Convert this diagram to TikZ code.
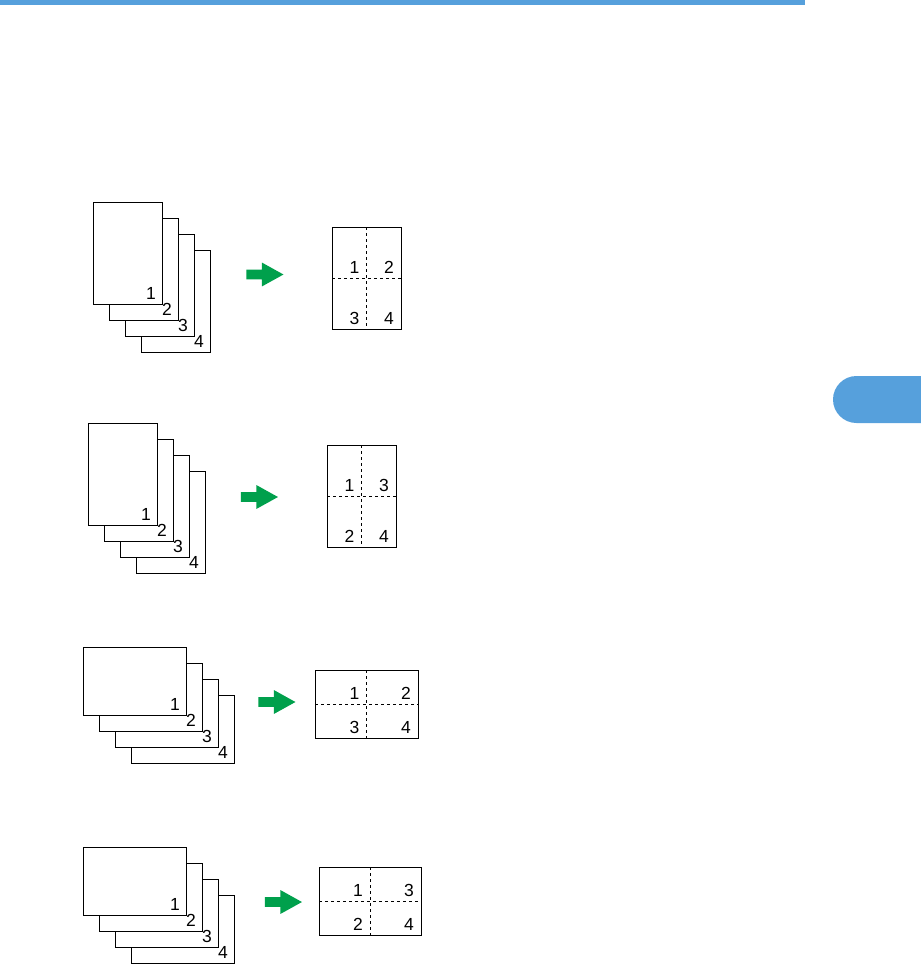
\documentclass[tikz,border=0pt]{standalone}
\usepackage{fontspec}
\setmainfont{Liberation Sans}
\usepackage{tikz}
\usetikzlibrary{shapes.arrows}
\definecolor{tabblue}{HTML}{56A0DC}
\definecolor{gogreen}{HTML}{00A04C}

\begin{document}
\begin{tikzpicture}[x=1pt,y=-1pt,line width=0.9pt,
  font=\fontsize{17.5}{20}\selectfont,
  sheet/.style={draw,fill=white,inner sep=0pt,outer sep=0pt,anchor=north west,
    minimum width=69pt,minimum height=102pt},
  wsheet/.style={sheet,minimum width=103pt,minimum height=68pt},
  pnum/.style={anchor=center,inner sep=0pt,xshift=-11pt,yshift=10.5pt},
  rnum/.style={anchor=center,inner sep=0pt,xshift=-12pt,yshift=11pt},
  fold/.style={dash pattern=on 3.2pt off 2.8pt},
  go/.style={single arrow,fill=gogreen,draw=none,inner sep=4.5pt,
    single arrow head extend=7pt,single arrow tip angle=58,minimum height=37pt}]
\useasboundingbox (0,0) rectangle (921,964);
% header bar and side tab
\fill[tabblue] (0,0) rectangle (805,5);
\fill[tabblue] (921,376) -- (856.5,376) arc[start angle=270,end angle=90,radius=23.5] -- (921,423) -- cycle;

% portrait, 1 2 / 3 4
\node[sheet,label={[pnum]south east:4}] (a4) at (141,250) {};
\node[sheet,label={[pnum]south east:3}] (a3) at (125,234) {};
\node[sheet,label={[pnum]south east:2}] (a2) at (109,218) {};
\node[sheet,label={[pnum]south east:1}] (a1) at (93,202) {};
\node[go] (ga) at (260.5,274.5) {};
\node[sheet,label={[rnum]center:1},label={[rnum]east:2},label={[rnum]south:3},label={[rnum]south east:4}] (ra) at (332,227) {};
\draw[fold] (ra.north) -- (ra.south);
\draw[fold] (ra.west) -- (ra.east);

% portrait, 1 3 / 2 4
\node[sheet,label={[pnum]south east:4}] (b4) at (136,471) {};
\node[sheet,label={[pnum]south east:3}] (b3) at (120,455) {};
\node[sheet,label={[pnum]south east:2}] (b2) at (104,439) {};
\node[sheet,label={[pnum]south east:1}] (b1) at (88,423) {};
\node[go] (gb) at (255,497) {};
\node[sheet,label={[rnum]center:1},label={[rnum]east:3},label={[rnum]south:2},label={[rnum]south east:4}] (rb) at (327,445) {};
\draw[fold] (rb.north) -- (rb.south);
\draw[fold] (rb.west) -- (rb.east);

% landscape, 1 2 / 3 4
\node[wsheet,label={[pnum]south east:4}] (c4) at (131,695) {};
\node[wsheet,label={[pnum]south east:3}] (c3) at (115,679) {};
\node[wsheet,label={[pnum]south east:2}] (c2) at (99,663) {};
\node[wsheet,label={[pnum]south east:1}] (c1) at (83,647) {};
\node[go] (gc) at (272.5,702) {};
\node[wsheet,label={[rnum]center:1},label={[rnum]east:2},label={[rnum]south:3},label={[rnum]south east:4}] (rc) at (315,670) {};
\draw[fold] (rc.north) -- (rc.south);
\draw[fold] (rc.west) -- (rc.east);

% landscape, 1 3 / 2 4
\node[wsheet,label={[pnum]south east:4}] (d4) at (131,895) {};
\node[wsheet,label={[pnum]south east:3}] (d3) at (115,879) {};
\node[wsheet,label={[pnum]south east:2}] (d2) at (99,863) {};
\node[wsheet,label={[pnum]south east:1}] (d1) at (83,847) {};
\node[go] (gd) at (279,902) {};
\node[wsheet,minimum width=102pt,label={[rnum]center:1},label={[rnum]east:3},label={[rnum]south:2},label={[rnum]south east:4}] (rd) at (319,867) {};
\draw[fold] (rd.north) -- (rd.south);
\draw[fold] (rd.west) -- (rd.east);
\end{tikzpicture}
\end{document}
